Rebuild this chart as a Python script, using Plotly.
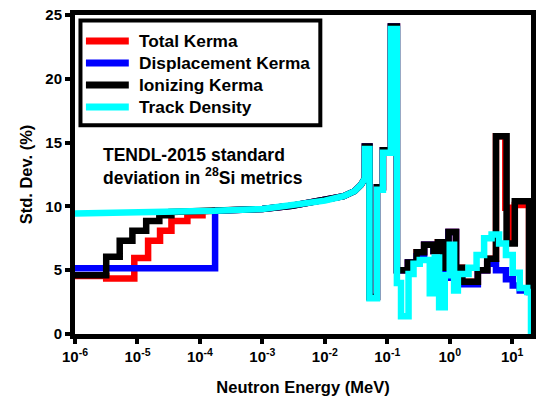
import plotly.graph_objects as go

# ---- Data: standard deviation (%) vs neutron energy (MeV) ----
# Smooth region shared by all four metrics
smooth_E = [1e-6, 1e-5, 3.5e-5, 1.1e-4, 1.75e-4, 1e-3, 3e-3, 1e-2, 2e-2, 3e-2, 3.8e-2, 4.38e-2]
smooth_sd = [9.45, 9.52, 9.56, 9.62, 9.65, 9.8, 10.05, 10.45, 10.8, 11.2, 11.7, 12.2]

# Low-energy group structure (bin edges, then one value per bin)
ion_low_E = [1e-6, 3.16e-6, 5.2e-6, 8.3e-6, 1.38e-5, 2.24e-5, 3.5e-5]
ion_low_sd = [4.6, 6.05, 7.3, 8.1, 8.85, 9.3]
tot_low_E = [1e-6, 3.16e-6, 8.9e-6, 1.48e-5, 2.3e-5, 3.5e-5, 6.3e-5, 1.1e-4]
tot_low_sd = [4.55, 4.35, 5.95, 7.3, 8.1, 8.85, 9.3]
dis_low_E = [1e-6, 1.75e-4]
dis_low_sd = [5.15]

# Resonance region
mid_E = [0.0438, 0.0518, 0.0683, 0.0851, 0.1143, 0.1426]
track_mid_sd = [14.5, 2.8, 11.3, 14.2, 23.9]
kerma_mid_sd = [14.7, 2.9, 11.5, 14.4, 24.1]

# Fast region
track_hi_E = [0.1426, 0.166, 0.219, 0.263, 0.331, 0.479, 0.575, 0.676, 0.832, 1.0, 1.175,
              1.35, 2.0, 2.69, 3.55, 4.68, 6.17, 7.94, 10.2, 13.2, 17.4, 20.0]
track_hi_sd = [4.0, 1.4, 4.7, 5.5, 5.8, 3.2, 6.0, 2.1, 4.6, 7.0, 3.4,
               4.7, 5.2, 6.2, 7.5, 7.8, 7.1, 6.2, 4.8, 3.6, 3.3]
track_end_sd = 0.0

ion_hi_E = [0.1426, 0.214, 0.295, 0.389, 0.550, 0.646, 0.794, 0.955, 1.26, 1.58, 2.82,
            3.98, 5.50, 8.13, 11.0, 18.6, 20.0]
ion_hi_sd = [5.0, 5.6, 6.4, 7.0, 6.5, 7.2, 5.2, 8.0, 5.2, 4.1, 5.0, 5.9, 15.5, 7.1, 10.4, 3.6]

tot_hi_E = [0.1426, 0.214, 0.295, 0.389, 0.550, 0.646, 0.794, 0.955, 1.26, 1.58, 2.82,
            3.98, 5.50, 7.76, 9.12, 11.0, 18.6, 20.0]
tot_hi_sd = [5.0, 5.6, 6.4, 7.0, 6.5, 7.2, 5.2, 8.0, 5.2, 4.1, 5.0, 5.9, 15.5, 9.9, 7.4, 10.1, 3.6]

dis_hi_E = [0.1426, 0.214, 0.295, 0.389, 0.550, 0.646, 0.794, 0.955, 1.26, 1.58, 2.82,
            3.98, 5.50, 7.94, 10.2, 13.2, 18.6, 20.0]
dis_hi_sd = [5.0, 5.6, 6.1, 7.0, 6.5, 7.0, 4.4, 8.0, 4.8, 3.9, 5.0, 5.5, 5.0, 4.3, 3.8, 3.4, 3.3]

series_names = ["Total Kerma", "Displacement Kerma", "Ionizing Kerma", "Track Density"]
series_colors = ["#ff0000", "#0000ff", "#000000", "#00ffff"]

x_tick_vals = [1e-6, 1e-5, 1e-4, 1e-3, 1e-2, 1e-1, 1e0, 1e1]
x_tick_text = ["10<sup>-6</sup>", "10<sup>-5</sup>", "10<sup>-4</sup>", "10<sup>-3</sup>",
               "10<sup>-2</sup>", "10<sup>-1</sup>", "10<sup>0</sup>", "10<sup>1</sup>"]
y_tick_vals = [0, 5, 10, 15, 20, 25]


def step_path(edges, vals):
    """Histogram-style outline from group edges and group values."""
    xs, ys = [], []
    for i, v in enumerate(vals):
        xs += [edges[i], edges[i + 1]]
        ys += [v, v]
    return xs, ys


def smooth_from(e_start):
    xs = [e for e in smooth_E if e >= e_start]
    ys = [v for e, v in zip(smooth_E, smooth_sd) if e >= e_start]
    return xs, ys


def kerma_series(low_E, low_sd, hi_E, hi_sd):
    x1, y1 = step_path(low_E, low_sd)
    x2, y2 = smooth_from(low_E[-1])
    x3, y3 = step_path(mid_E, kerma_mid_sd)
    x4, y4 = step_path(hi_E, hi_sd)
    return x1 + x2 + x3 + x4, y1 + y2 + y3 + y4


tot_x, tot_y = kerma_series(tot_low_E, tot_low_sd, tot_hi_E, tot_hi_sd)
dis_x, dis_y = kerma_series(dis_low_E, dis_low_sd, dis_hi_E, dis_hi_sd)
ion_x, ion_y = kerma_series(ion_low_E, ion_low_sd, ion_hi_E, ion_hi_sd)

mx, my = step_path(mid_E, track_mid_sd)
hx, hy = step_path(track_hi_E, track_hi_sd)
trk_x = list(smooth_E) + mx + hx + [track_hi_E[-1]]
trk_y = list(smooth_sd) + my + hy + [track_end_sd]

FONT = "Liberation Sans, Arial, sans-serif"
LW = 6.5

fig = go.Figure()
for name, xs, ys, color in zip(series_names,
                               [tot_x, dis_x, ion_x, trk_x],
                               [tot_y, dis_y, ion_y, trk_y],
                               series_colors):
    fig.add_trace(go.Scatter(x=xs, y=ys, mode="lines", name=name,
                             line=dict(color=color, width=LW), showlegend=False))

# Boxed key in the upper-left corner of the plot area (paper coordinates)
key_left, key_right, key_top, key_bottom = 0.012, 0.538, 0.983, 0.654
key_rows = [0.9185, 0.8495, 0.7806, 0.7116]
shapes = [dict(type="rect", xref="paper", yref="paper",
               x0=key_left, x1=key_right, y0=key_bottom, y1=key_top,
               line=dict(color="black", width=4), fillcolor="white", layer="above")]
annotations = []
for name, color, yk in zip(series_names, series_colors, key_rows):
    shapes.append(dict(type="line", xref="paper", yref="paper",
                       x0=0.024, x1=0.118, y0=yk, y1=yk,
                       line=dict(color=color, width=7), layer="above"))
    annotations.append(dict(xref="paper", yref="paper", x=0.136, y=yk,
                            xanchor="left", yanchor="middle", showarrow=False,
                            text=name,
                            font=dict(family=FONT, size=17.3, color="black", weight="bold")))

annotations.append(dict(
    xref="paper", yref="paper", x=0.056, y=0.6, xanchor="left", yanchor="top",
    align="left", showarrow=False,
    text="TENDL-2015 standard<br>deviation in <sup>28</sup>Si metrics",
    font=dict(family=FONT, size=17.5, color="black", weight="bold"),
))

axis_common = dict(
    showline=True, linecolor="black", linewidth=5, mirror=True,
    ticks="outside", ticklen=5, tickwidth=4, tickcolor="black",
    showgrid=False, zeroline=False, automargin=False,
    tickfont=dict(family=FONT, size=15, color="black", weight="bold"),
)

fig.update_layout(
    width=536, height=402,
    margin=dict(l=75, r=5, t=15, b=68),
    paper_bgcolor="white", plot_bgcolor="white",
    font=dict(family=FONT, color="black"),
    xaxis=dict(type="log", range=[-6, 1.301], tickvals=x_tick_vals, ticktext=x_tick_text,
               title=dict(text="Neutron Energy (MeV)", standoff=19,
                          font=dict(family=FONT, size=16.5, weight="bold")),
               **axis_common),
    yaxis=dict(range=[0, 25], tickvals=y_tick_vals,
               title=dict(text="Std. Dev. (%)", standoff=10,
                          font=dict(family=FONT, size=16.5, weight="bold")),
               **axis_common),
    showlegend=False,
    shapes=shapes,
    annotations=annotations,
)

fig.write_html("out.html")
